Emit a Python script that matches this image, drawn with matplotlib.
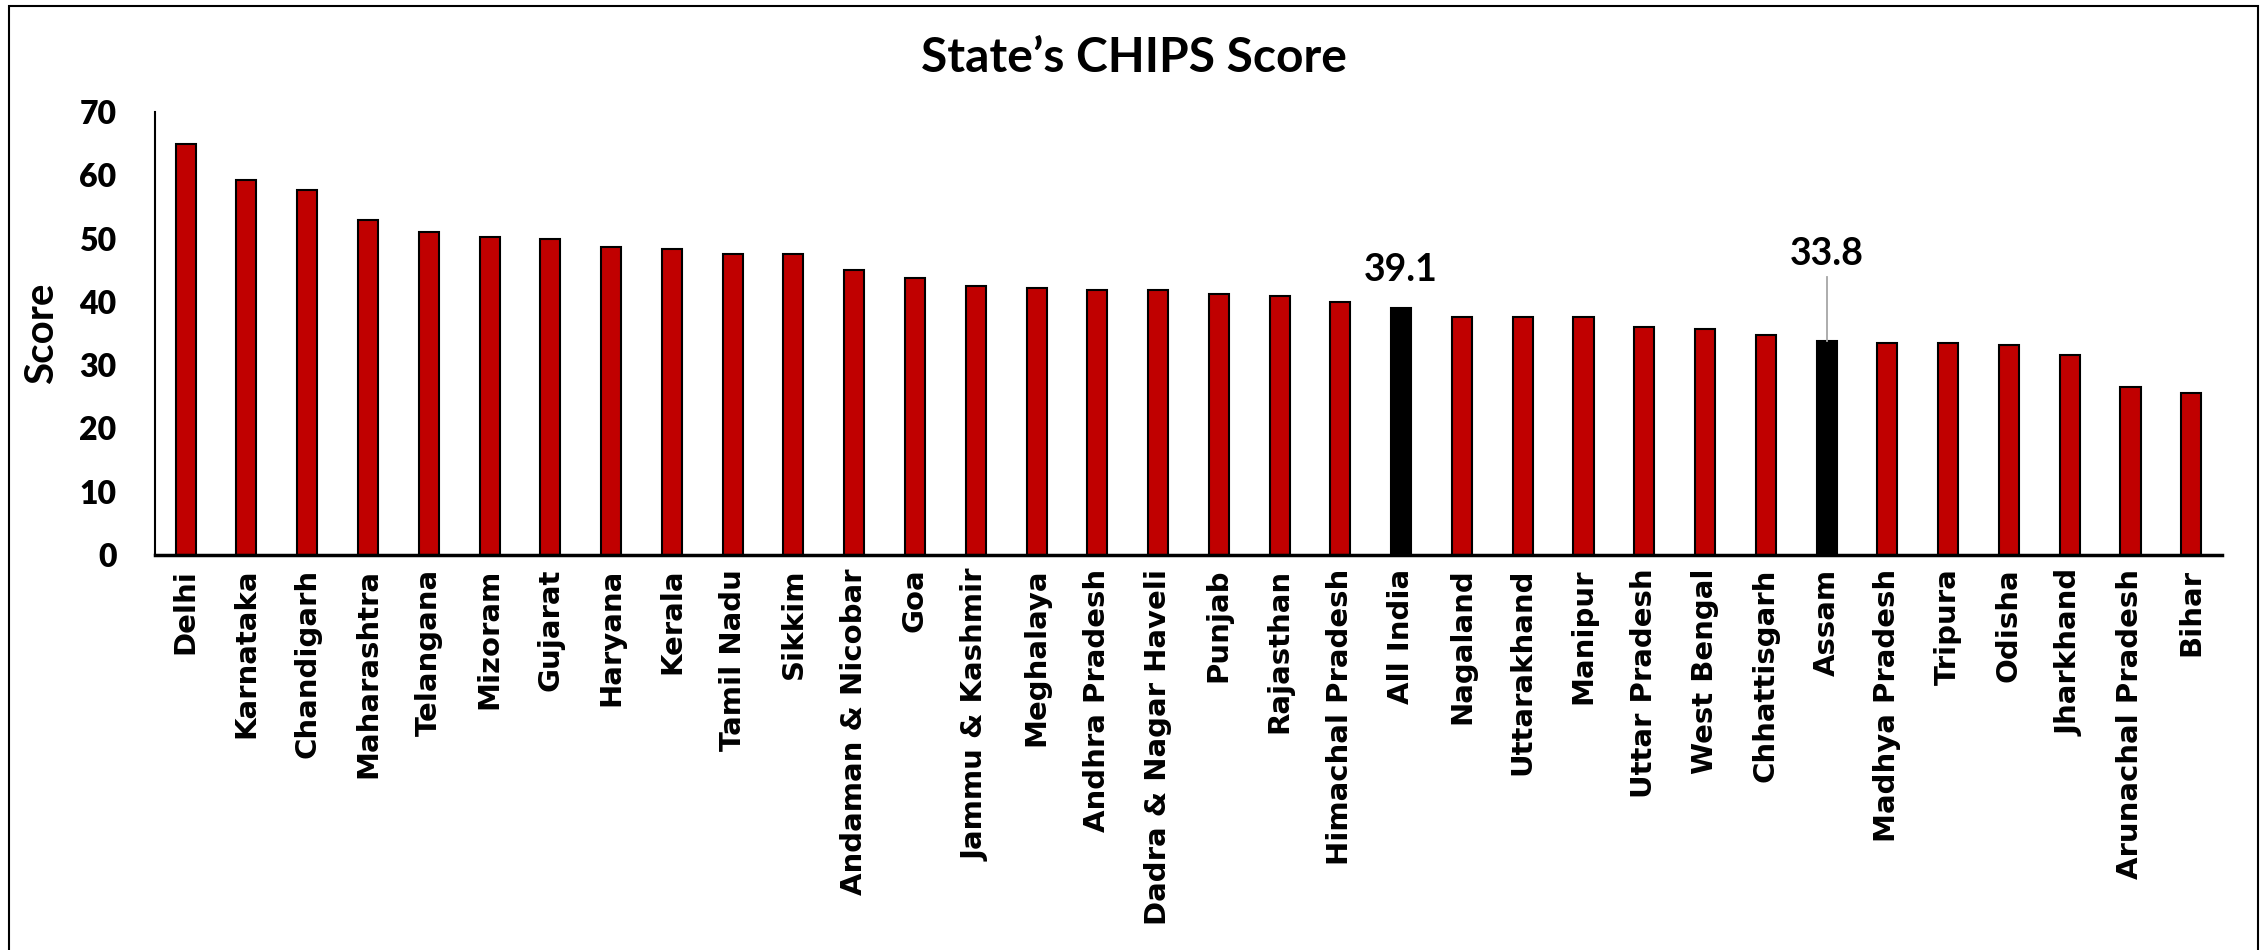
import matplotlib
matplotlib.use("Agg")
import matplotlib.pyplot as plt
from matplotlib.patches import Rectangle

states = ["Delhi", "Karnataka", "Chandigarh", "Maharashtra", "Telangana", "Mizoram",
          "Gujarat", "Haryana", "Kerala", "Tamil Nadu", "Sikkim", "Andaman & Nicobar",
          "Goa", "Jammu & Kashmir", "Meghalaya", "Andhra Pradesh", "Dadra & Nagar Haveli",
          "Punjab", "Rajasthan", "Himachal Pradesh", "All India", "Nagaland", "Uttarakhand",
          "Manipur", "Uttar Pradesh", "West Bengal", "Chhattisgarh", "Assam",
          "Madhya Pradesh", "Tripura", "Odisha", "Jharkhand", "Arunachal Pradesh", "Bihar"]
scores = [64.9, 59.2, 57.7, 52.9, 51.0, 50.3, 50.0, 48.7, 48.4, 47.5, 47.5, 45.0,
          43.7, 42.5, 42.2, 41.8, 41.8, 41.2, 40.9, 39.9, 39.1, 37.6, 37.6, 37.6,
          36.0, 35.7, 34.8, 33.8, 33.5, 33.5, 33.2, 31.6, 26.6, 25.6]
highlight = ["All India", "Assam"]

red = "#C00000"
colors = ["black" if s in highlight else red for s in states]

fig = plt.figure(figsize=(22.67, 9.5), dpi=100)
ax = fig.add_axes([0.0685, 0.416, 0.9115, 0.466])

x = range(len(states))
ax.bar(x, scores, width=0.33, color=colors, edgecolor="black", linewidth=1.5)

ax.set_xlim(-0.5, len(states) - 0.5)
ax.set_ylim(0, 70)
ax.set_yticks(range(0, 71, 10))
ax.set_xticks(list(x))
ax.set_xticklabels(states, rotation=90, fontsize=21, fontweight="bold",
                   family="DejaVu Sans")
for lab in ax.get_yticklabels():
    lab.set_fontfamily("Lato")
    lab.set_fontweight("heavy")
    lab.set_fontsize(23)
ax.tick_params(axis="both", length=0)
ax.tick_params(axis="y", pad=28)
ax.tick_params(axis="x", pad=10)

for side in ["top", "right"]:
    ax.spines[side].set_visible(False)
ax.spines["left"].set_linewidth(1.5)
ax.spines["bottom"].set_linewidth(2.5)

fig.text(42 / 2267, 0.649, "Score", rotation=90, ha="center", va="center",
         fontsize=29, fontweight="bold", family="Lato")

# annotations
ia = states.index("All India")
ax.text(ia, scores[ia] + 3.3, "39.1", ha="center", va="bottom", fontsize=27,
        family="Lato", fontweight="bold")
aa = states.index("Assam")
ax.plot([aa, aa], [scores[aa], 44.0], color="#A6A6A6", linewidth=1.3)
ax.text(aa, 44.8, "33.8", ha="center", va="bottom", fontsize=27,
        family="Lato", fontweight="bold")

fig.text(0.5, 0.939, "State\u2019s CHIPS Score", ha="center", va="center",
         fontsize=34.5, fontweight="bold", family="Lato")

# outer frame
fig.patches.append(Rectangle((9 / 2267, -0.05), (2258 - 9) / 2267, 1.05 - 6 / 950,
                             transform=fig.transFigure, fill=False,
                             edgecolor="black", linewidth=1.5))

fig.savefig("out.png", dpi=100)
